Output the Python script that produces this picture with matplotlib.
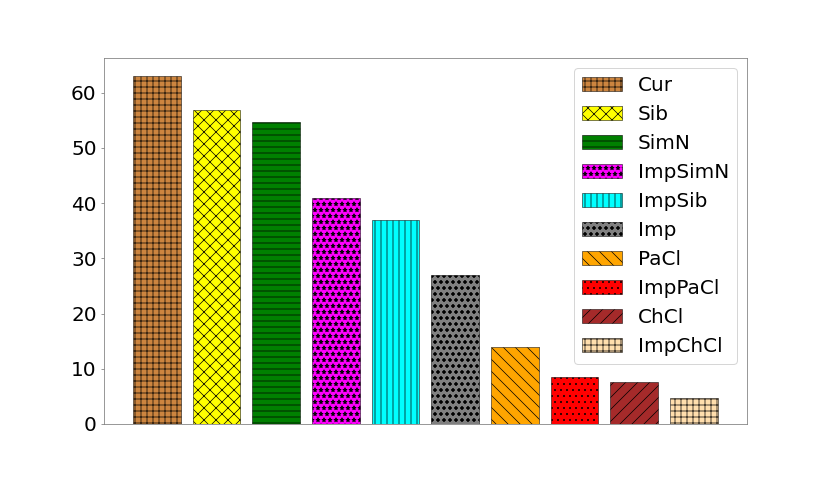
import matplotlib
matplotlib.use("Agg")
import matplotlib.pyplot as plt

plt.rcParams["hatch.linewidth"] = 0.7

labels = ["Cur", "Sib", "SimN", "ImpSimN", "ImpSib", "Imp", "PaCl", "ImpPaCl", "ChCl", "ImpChCl"]
values = [63.1, 56.8, 54.7, 41.0, 36.9, 26.9, 14.0, 8.5, 7.5, 4.7]
colors = ["peru", "yellow", "green", "magenta", "cyan", "gray", "orange", "red", "brown", "navajowhite"]
hatches = ["++", "xx", "--", "**", "||", "oo", "\\\\", "..", "//", "++"]

fig = plt.figure(figsize=(830 / 72, 485 / 72), dpi=72)
ax = fig.add_subplot(111)
fig.subplots_adjust(left=0.125, right=0.9, top=0.88, bottom=0.126)

for i, (lab, v, c, h) in enumerate(zip(labels, values, colors, hatches)):
    ax.bar(i, v, width=0.8, color=c, hatch=h, edgecolor="black", linewidth=0.5, label=lab)

ax.set_xticks([])
ax.tick_params(axis="y", labelsize=20, colors="black", color="gray")
for s in ax.spines.values():
    s.set_color("gray")
ax.legend(loc="upper right", fontsize=20)

fig.savefig("out.png", dpi=72)
